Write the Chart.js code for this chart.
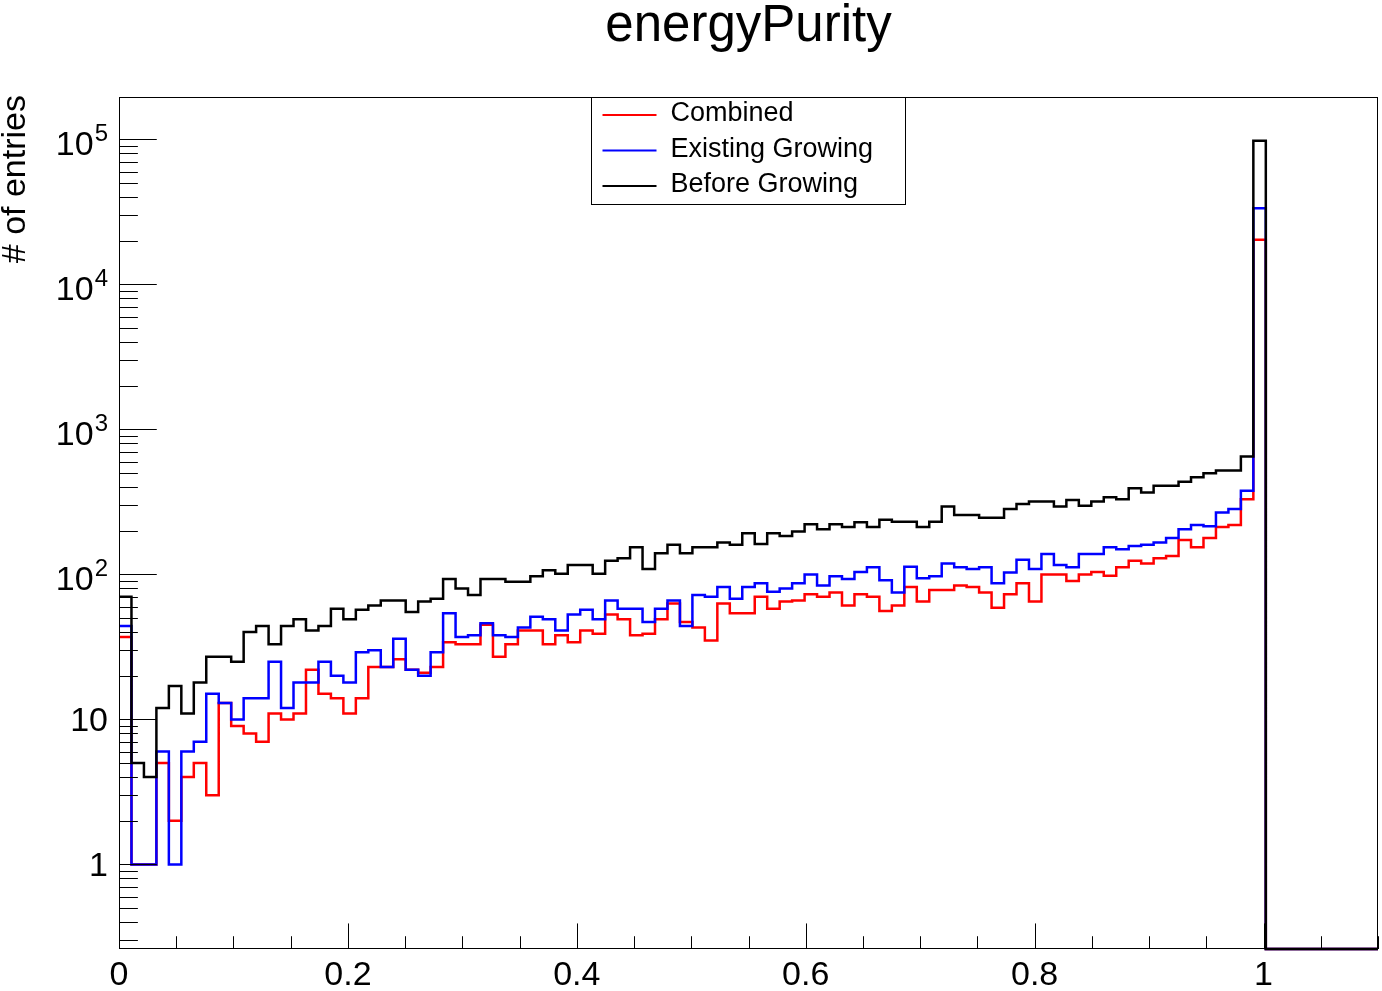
<!DOCTYPE html>
<html>
<head>
<meta charset="utf-8">
<title>energyPurity</title>
<script src="https://cdn.jsdelivr.net/npm/chart.js@4.4.1/dist/chart.umd.min.js"></script>
<style>
  html, body { margin: 0; padding: 0; background: #fff; }
</style>
</head>
<body>
<canvas id="chart" width="1382" height="991"></canvas>
<script>
// histogram binning
const nBins = 101;
const xMin = 0;
const xMax = 1.1;

// bin contents (empty bins = 0)
const combined = [
  37, 1, 1, 5, 2, 4, 5, 3, 13, 9,
  8, 7, 11, 10, 11, 22, 15, 14, 11, 14,
  23, 23, 26, 22, 21, 23, 34, 33, 33, 45,
  27, 33, 41, 41, 33, 38, 34, 41, 39, 53,
  49, 38, 39, 49, 63, 47, 43, 35, 63, 54,
  54, 70, 58, 65, 66, 73, 70, 75, 61, 73,
  70, 56, 61, 82, 65, 78, 78, 84, 82, 75,
  59, 73, 87, 65, 100, 100, 90, 100, 104, 98,
  112, 124, 119, 129, 134, 173, 154, 178, 212, 219,
  330, 20300, 0, 0, 0, 0, 0, 0, 0, 0, 0
];
const existingGrowing = [
  44, 1, 1, 6, 1, 6, 7, 15, 13, 10,
  14, 14, 25, 12, 18, 18, 25, 20, 18, 29,
  30, 23, 36, 22, 20, 29, 54, 37, 38, 46,
  38, 37, 43, 51, 49, 41, 53, 57, 49, 66,
  58, 58, 47, 58, 66, 44, 72, 70, 82, 68,
  82, 87, 76, 80, 87, 100, 84, 97, 93, 104,
  112, 91, 75, 113, 94, 97, 119, 112, 109, 112,
  87, 103, 126, 109, 138, 116, 112, 138, 138, 154,
  149, 157, 160, 166, 178, 205, 219, 215, 267, 283,
  378, 33500, 0, 0, 0, 0, 0, 0, 0, 0, 0
];
const beforeGrowing = [
  70, 5, 4, 12, 17, 11, 18, 27, 27, 25,
  40, 44, 33, 44, 49, 41, 44, 58, 49, 57,
  61, 66, 66, 55, 65, 68, 93, 80, 72, 93,
  93, 89, 89, 97, 107, 101, 116, 116, 101, 124,
  129, 154, 109, 140, 160, 140, 154, 154, 166, 160,
  192, 162, 192, 184, 198, 222, 205, 222, 212, 229,
  212, 238, 231, 231, 212, 231, 294, 257, 257, 246,
  246, 283, 306, 318, 318, 294, 326, 297, 318, 341,
  330, 393, 367, 408, 408, 436, 468, 499, 520, 520,
  649, 98000, 0, 0, 0, 0, 0, 0, 0, 0, 0
];

// axis labels
const xTickLabels = [0, 0.2, 0.4, 0.6, 0.8, 1];
const yTickLabels = [1, 10, 100, 1000, 10000, 100000];
const yMin = 0.261;
const yMax = 196000;
const xMinorStep = 0.05;

const FONT = "'Liberation Sans', Arial, Helvetica, sans-serif";

// bin edges
const edges = [];
for (let k = 0; k <= nBins; k++) edges.push(xMin + k * (xMax - xMin) / nBins);

// histogram -> step points (left edge of each bin + closing point)
function steps(values) {
  const pts = values.map((v, k) => ({ x: edges[k], y: v > 0 ? v : yMin }));
  pts.push({ x: edges[nBins], y: pts[pts.length - 1].y });
  return pts;
}

const series = [
  { label: "Combined", values: combined, color: "#ff0000", order: 3 },
  { label: "Existing Growing", values: existingGrowing, color: "#0000ff", order: 2 },
  { label: "Before Growing", values: beforeGrowing, color: "#000000", order: 1 },
];

// ROOT-like frame, inner ticks, labels, title and legend
const rootStyle = {
  id: "rootStyle",
  afterDatasetsDraw(chart) {
    const { ctx, chartArea: a, scales: { x, y } } = chart;
    ctx.save();
    ctx.strokeStyle = "#000";
    ctx.fillStyle = "#000";
    ctx.lineWidth = 1;

    // frame
    ctx.strokeRect(Math.round(a.left) + 0.5, Math.round(a.top) + 0.5,
      Math.round(a.right - a.left) - 1, Math.round(a.bottom - a.top) - 1);

    // y ticks (log, 1..9 per decade)
    const yLen = 0.03 * (a.right - a.left);
    ctx.beginPath();
    for (let e = -1; e <= 5; e++) {
      for (let m = 1; m <= 9; m++) {
        const v = m * Math.pow(10, e);
        if (v < yMin || v > yMax) continue;
        const py = Math.round(y.getPixelForValue(v)) + 0.5;
        const len = m === 1 ? yLen : yLen / 2;
        ctx.moveTo(a.left, py);
        ctx.lineTo(a.left + len, py);
      }
    }
    // x ticks
    const xLen = 0.03 * (a.bottom - a.top);
    const nMinor = Math.round((xMax - xMin) / xMinorStep);
    for (let i = 0; i <= nMinor; i++) {
      const v = xMin + i * xMinorStep;
      const major = xTickLabels.some(t => Math.abs(t - v) < 1e-9);
      const px = Math.round(x.getPixelForValue(v)) + 0.5;
      ctx.moveTo(px, a.bottom);
      ctx.lineTo(px, a.bottom - (major ? xLen : xLen / 2));
    }
    ctx.stroke();

    // y labels, with superscript exponents
    const right = a.left - 11;
    ctx.textAlign = "right";
    ctx.textBaseline = "alphabetic";
    yTickLabels.forEach(v => {
      const py = y.getPixelForValue(v);
      const exp = Math.round(Math.log10(v));
      if (exp <= 1) {
        ctx.font = "34px " + FONT;
        ctx.fillText(String(v), right, py + 12);
      } else {
        ctx.font = "24px " + FONT;
        const supW = ctx.measureText(String(exp)).width;
        ctx.fillText(String(exp), right, py + 2);
        ctx.font = "34px " + FONT;
        ctx.fillText("10", right - supW - 1, py + 16);
      }
    });

    // y axis title
    ctx.save();
    ctx.translate(16, a.top - 2);
    ctx.rotate(-Math.PI / 2);
    ctx.font = "34px " + FONT;
    ctx.textAlign = "right";
    ctx.textBaseline = "middle";
    ctx.fillText("# of entries", 0, 0);
    ctx.restore();

    // title
    ctx.font = "51px " + FONT;
    ctx.textAlign = "center";
    ctx.textBaseline = "alphabetic";
    ctx.fillText("energyPurity", (a.left + a.right) / 2, 41);

    // legend
    const lx = 591.5, ly = a.top + 0.5, lw = 314, lh = 107;
    ctx.fillStyle = "#fff";
    ctx.fillRect(lx, ly, lw, lh);
    ctx.strokeStyle = "#000";
    ctx.strokeRect(lx, ly, lw, lh);
    ctx.font = "27px " + FONT;
    ctx.textAlign = "left";
    ctx.textBaseline = "middle";
    series.forEach((s, i) => {
      const ry = ly + 17.5 + i * 35.5;
      ctx.strokeStyle = s.color;
      ctx.lineWidth = 2;
      ctx.beginPath();
      ctx.moveTo(lx + 11, ry);
      ctx.lineTo(lx + 65, ry);
      ctx.stroke();
      ctx.fillStyle = "#000";
      ctx.fillText(s.label, lx + 79, ry - 1);
    });
    ctx.restore();
  }
};

new Chart(document.getElementById("chart"), {
  type: "line",
  data: {
    datasets: series.map(s => ({
      label: s.label,
      data: steps(s.values),
      borderColor: s.color,
      backgroundColor: s.color,
      borderWidth: 2.5,
      stepped: "before",
      pointRadius: 0,
      fill: false,
      order: s.order,
      clip: { left: 1, right: 1, top: 0, bottom: 2 },
    })),
  },
  options: {
    responsive: false,
    animation: false,
    layout: { padding: { top: 97, right: 4, left: 0, bottom: 0 } },
    plugins: {
      legend: { display: false },
      title: { display: false },
      tooltip: { enabled: false },
    },
    scales: {
      x: {
        type: "linear",
        min: xMin,
        max: xMax,
        grid: { display: false },
        border: { display: false },
        afterBuildTicks: s => { s.ticks = xTickLabels.map(v => ({ value: v })); },
        afterFit: s => { s.height = 42; },
        ticks: {
          autoSkip: false,
          maxRotation: 0,
          padding: -2,
          color: "#000",
          font: { size: 34, family: FONT },
          callback: v => String(v),
        },
      },
      y: {
        type: "logarithmic",
        min: yMin,
        max: yMax,
        grid: { display: false },
        border: { display: false },
        ticks: { display: false },
        afterFit: s => { s.width = 119; },
      },
    },
  },
  plugins: [rootStyle],
});
</script>
</body>
</html>
